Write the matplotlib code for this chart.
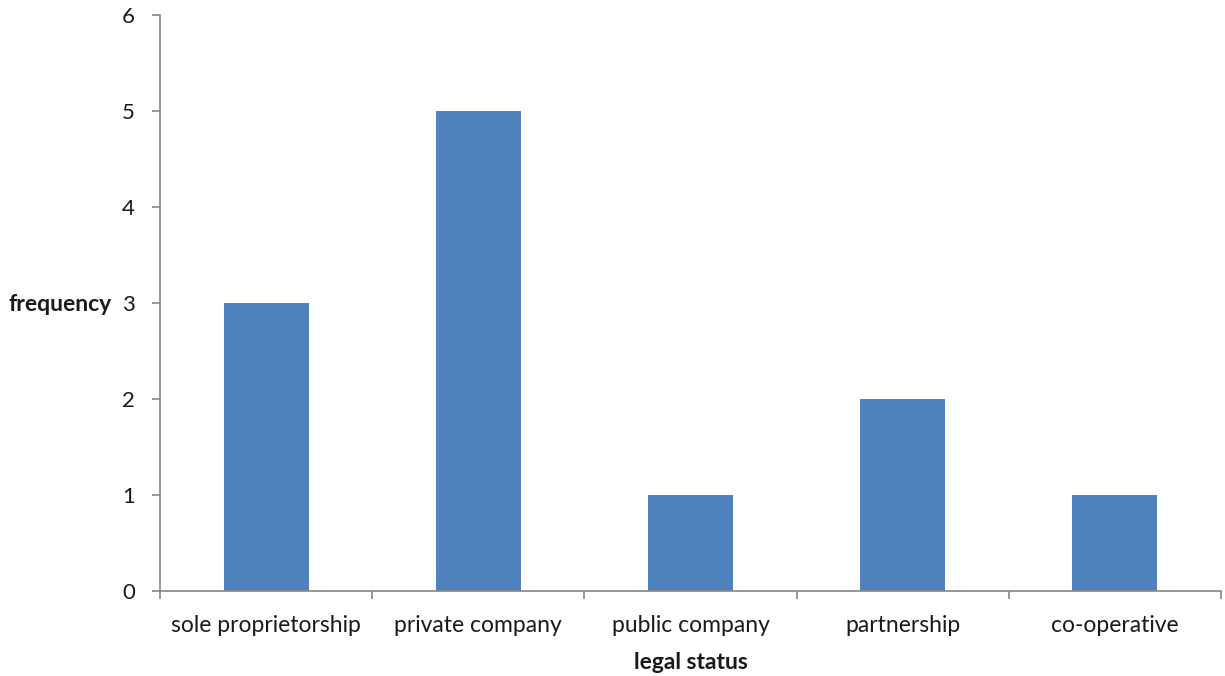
import matplotlib
matplotlib.use("Agg")
import matplotlib.pyplot as plt
import numpy as np

categories = ["sole proprietorship", "private company", "public company",
              "partnership", "co-operative"]
frequency = [3, 5, 1, 2, 1]

plt.rcParams["font.family"] = ["Lato", "DejaVu Sans"]

fig = plt.figure(figsize=(12.25, 6.76), dpi=100)
ax = fig.add_axes([160 / 1225, 1 - 591 / 676, (1221 - 160) / 1225, (591 - 15) / 676])

x = np.arange(len(categories))
ax.bar(x, frequency, width=0.4, color="#4F81BD", zorder=2)

ax.set_xlim(-0.5, len(categories) - 0.5)
ax.set_ylim(0, 6)
ax.set_yticks(range(0, 7))

# category boundaries carry the tick marks, centres carry the labels
ax.set_xticks(np.arange(-0.5, len(categories), 1.0))
ax.set_xticklabels([])
ax.set_xticks(x, minor=True)
ax.set_xticklabels(categories, minor=True)
ax.tick_params(axis="x", which="minor", length=0, pad=17, labelsize=16.5, colors="#1a1a1a")
ax.tick_params(axis="x", which="major", length=6, width=1.2, color="#868686")
ax.tick_params(axis="y", length=6, width=1.2, color="#868686", labelsize=16,
               labelcolor="#1a1a1a", pad=12)

for side in ("top", "right"):
    ax.spines[side].set_visible(False)
for side in ("left", "bottom"):
    ax.spines[side].set_color("#868686")
    ax.spines[side].set_linewidth(1.2)

ax.set_xlabel("legal status", fontweight="bold", fontsize=16.5, labelpad=12, color="#1a1a1a")
ax.set_ylabel("frequency", fontweight="bold", fontsize=16.5, rotation=0,
              color="#1a1a1a", labelpad=0, ha="right", va="center")
ax.yaxis.set_label_coords(-0.0452, 0.497)

fig.savefig("out.png", dpi=100)
